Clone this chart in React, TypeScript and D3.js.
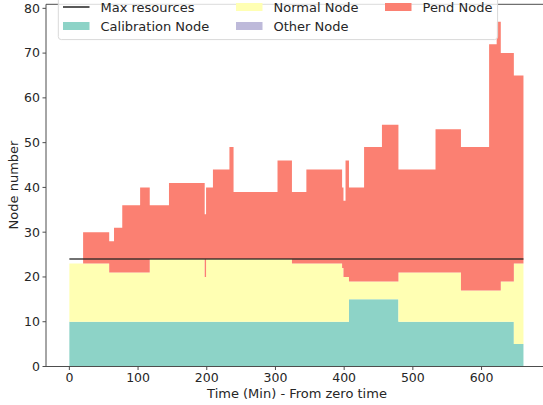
import React from "react";
import * as d3 from "d3";

// Segment start times (minutes) plus final end time
const times = [0, 20, 58, 65, 77, 103, 117, 145, 197, 199, 209, 233, 239, 303, 324, 345, 397, 399, 402, 407, 429, 455, 479, 533, 570, 611, 622, 628, 647, 661];
const calibration = [10, 10, 10, 10, 10, 10, 10, 10, 10, 10, 10, 10, 10, 10, 10, 10, 10, 10, 10, 15, 15, 15, 10, 10, 10, 10, 10, 10, 5];
const normal = [13, 13, 11, 11, 11, 11, 14, 14, 10, 14, 14, 14, 14, 14, 13, 13, 12, 10, 10, 4, 4, 4, 11, 11, 7, 7, 7, 9, 18];
const other = [0, 0, 0, 0, 0, 0, 0, 0, 0, 0, 0, 0, 0, 0, 0, 0, 0, 0, 0, 0, 0, 0, 0, 0, 0, 0, 0, 0, 0];
const pend = [0, 7, 7, 10, 15, 19, 12, 17, 14, 16, 20, 25, 15, 22, 16, 21, 18, 17, 26, 21, 30, 35, 23, 32, 32, 55, 60, 51, 42];
const maxResources = 24;

const xTicks = [0, 100, 200, 300, 400, 500, 600];
const yTicks = [0, 10, 20, 30, 40, 50, 60, 70, 80];

const seriesKeys = ["Calibration Node", "Normal Node", "Other Node", "Pend Node"];
const seriesColors = ["#8dd3c7", "#ffffb3", "#bebada", "#fb8072"];
const seriesValues = [calibration, normal, other, pend];

const W = 543;
const H = 405;

export default function App() {
  const x = d3.scaleLinear().domain([-34, 712]).range([46, 558.5]);
  const y = d3.scaleLinear().domain([0, 80.9]).range([366.5, 4.3]);

  const rows = times.map((t, i) => {
    const idx = Math.min(i, calibration.length - 1);
    const r: any = { t };
    seriesKeys.forEach((k, j) => (r[k] = seriesValues[j][idx]));
    return r;
  });
  const stacked = d3.stack<any>().keys(seriesKeys)(rows);
  const area = d3
    .area<any>()
    .curve(d3.curveStepAfter)
    .x((d) => x(d.data.t))
    .y0((d) => y(d[0]))
    .y1((d) => y(d[1]));

  const font = "DejaVu Sans, sans-serif";
  const textColor = "#262626";
  const spine = "#4d4d4d";

  const legendItems = [
    { label: "Max resources", type: "line", color: "#222", col: 0, row: 0 },
    { label: "Calibration Node", type: "patch", color: seriesColors[0], col: 0, row: 1 },
    { label: "Normal Node", type: "patch", color: seriesColors[1], col: 1, row: 0 },
    { label: "Other Node", type: "patch", color: seriesColors[2], col: 1, row: 1 },
    { label: "Pend Node", type: "patch", color: seriesColors[3], col: 2, row: 0 },
  ];
  const colX = [63, 236, 385];
  const rowY = [7, 26];

  return (
    <svg
      width={W}
      height={H}
      style={{ position: "absolute", left: 0, top: 0, background: "#fff" }}
      fontFamily={font}
    >
      {stacked.map((s, i) => (
        <path key={s.key} d={area(s) || ""} fill={seriesColors[i]} />
      ))}
      <line
        x1={x(times[0])}
        x2={x(times[times.length - 1])}
        y1={y(maxResources)}
        y2={y(maxResources)}
        stroke="#222"
        strokeOpacity={0.85}
        strokeWidth={1.5}
      />
      {/* spines */}
      <line x1={46} x2={46} y1={4.3} y2={366.5} stroke={spine} strokeWidth={1} />
      <line x1={46} x2={W} y1={366.5} y2={366.5} stroke={spine} strokeWidth={1} />
      <line x1={46} x2={W} y1={4.3} y2={4.3} stroke={spine} strokeWidth={1} />
      {xTicks.map((t) => (
        <g key={t}>
          <line x1={x(t)} x2={x(t)} y1={366.5} y2={370} stroke={spine} />
          <text x={x(t)} y={382} textAnchor="middle" fontSize={12.5} fill={textColor}>
            {t}
          </text>
        </g>
      ))}
      {yTicks.map((v) => (
        <g key={v}>
          <line x1={42.5} x2={46} y1={y(v)} y2={y(v)} stroke={spine} />
          <text x={40} y={y(v)} dy="0.35em" textAnchor="end" fontSize={12.5} fill={textColor}>
            {v}
          </text>
        </g>
      ))}
      <text x={297} y={398} textAnchor="middle" fontSize={13} fill={textColor}>
        Time (Min) - From zero time
      </text>
      <text
        transform={`translate(18,185) rotate(-90)`}
        textAnchor="middle"
        fontSize={13}
        fill={textColor}
      >
        Node number
      </text>
      {/* legend */}
      <rect x={58.3} y={-4} width={439.3} height={43.6} rx={3} fill="#fff" fillOpacity={0.8} stroke="#d9d9d9" strokeWidth={1} />
      {legendItems.map((it) => {
        const lx = colX[it.col];
        const ly = rowY[it.row];
        return (
          <g key={it.label}>
            {it.type === "line" ? (
              <line x1={lx} x2={lx + 26.5} y1={ly} y2={ly} stroke={it.color} strokeWidth={1.5} />
            ) : (
              <rect x={lx} y={ly - 4} width={26.5} height={8} fill={it.color} />
            )}
            <text x={lx + 37.5} y={ly} dy="0.38em" fontSize={13} fill={textColor}>
              {it.label}
            </text>
          </g>
        );
      })}
    </svg>
  );
}
